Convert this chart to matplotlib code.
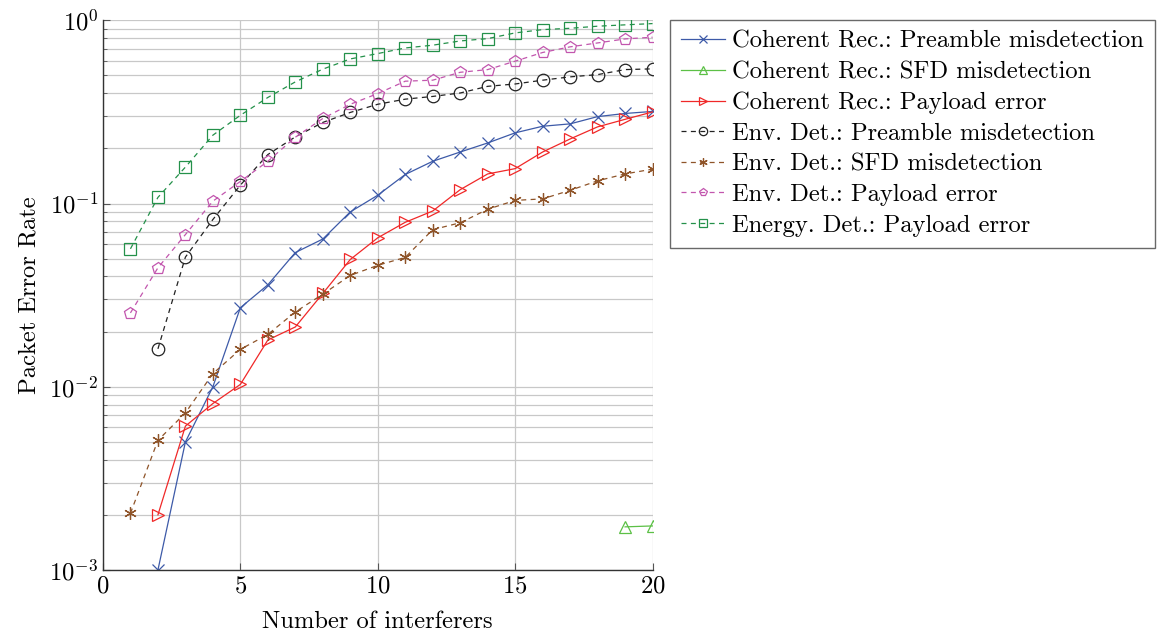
import matplotlib
matplotlib.use("Agg")
import matplotlib.pyplot as plt
from matplotlib.ticker import LogLocator, NullFormatter

plt.rcParams["font.family"] = "serif"
plt.rcParams["font.serif"] = ["cmr10", "DejaVu Serif"]
plt.rcParams["mathtext.fontset"] = "cm"
plt.rcParams["axes.formatter.use_mathtext"] = True

# ---- data ----
n_all = list(range(1, 21))
n_from2 = list(range(2, 21))
n_sfd = [19, 20]

coh_preamble = [0.0010, 0.0050, 0.0100, 0.027, 0.036, 0.054, 0.064, 0.090, 0.111, 0.144,
                0.170, 0.191, 0.214, 0.243, 0.264, 0.272, 0.298, 0.310, 0.318]
coh_sfd = [0.00172, 0.00174]
coh_payload = [0.0020, 0.0061, 0.0081, 0.0103, 0.018, 0.0212, 0.0323, 0.0495, 0.065, 0.079,
               0.091, 0.119, 0.145, 0.155, 0.191, 0.225, 0.262, 0.288, 0.316]
env_preamble = [0.0161, 0.051, 0.0818, 0.126, 0.185, 0.231, 0.277, 0.314, 0.348, 0.371,
                0.384, 0.401, 0.436, 0.449, 0.471, 0.491, 0.505, 0.538, 0.543]
env_sfd = [0.00204, 0.0051, 0.0072, 0.0118, 0.016, 0.0193, 0.0256, 0.032, 0.0405, 0.046,
           0.0508, 0.072, 0.0785, 0.093, 0.104, 0.106, 0.118, 0.133, 0.145, 0.154]
env_payload = [0.0253, 0.0446, 0.0677, 0.103, 0.132, 0.170, 0.230, 0.291, 0.348, 0.398,
               0.465, 0.471, 0.520, 0.538, 0.598, 0.667, 0.716, 0.752, 0.791, 0.808]
energy_payload = [0.0566, 0.108, 0.158, 0.236, 0.303, 0.379, 0.461, 0.541, 0.615, 0.658,
                  0.706, 0.731, 0.771, 0.794, 0.853, 0.889, 0.904, 0.928, 0.944, 0.959]

series = [
    (n_from2, coh_preamble, "Coherent Rec.: Preamble misdetection", "#3d5aa8", "x", "-"),
    (n_sfd, coh_sfd, "Coherent Rec.: SFD misdetection", "#5cc046", "^", "-"),
    (n_from2, coh_payload, "Coherent Rec.: Payload error", "#f02828", ">", "-"),
    (n_from2, env_preamble, "Env. Det.: Preamble misdetection", "#222222", "o", "--"),
    (n_all, env_sfd, "Env. Det.: SFD misdetection", "#8f5429", (6, 2, 0), "--"),
    (n_all, env_payload, "Env. Det.: Payload error", "#c256ae", "p", "--"),
    (n_all, energy_payload, "Energy. Det.: Payload error", "#24914a", "s", "--"),
]

FS = 17.7

fig = plt.figure(figsize=(11.57, 6.33), dpi=100)
ax = fig.add_axes([0.089, 0.0995, 0.475, 0.8685])

for x, y, label, color, marker, ls in series:
    ax.plot(x, y, linestyle=ls, color=color, lw=0.9, marker=marker, markersize=9,
            markerfacecolor="none", markeredgecolor=color, markeredgewidth=0.9,
            dashes=(4, 3.5) if ls == "--" else (None, None), label=label)

ax.set_yscale("log")
ax.set_xlim(0, 20)
ax.set_ylim(1e-3, 1)
ax.set_xticks([0, 5, 10, 15, 20])
ax.yaxis.set_major_locator(LogLocator(base=10, numticks=10))
ax.yaxis.set_minor_locator(LogLocator(base=10, subs=range(2, 10), numticks=20))
ax.yaxis.set_minor_formatter(NullFormatter())
ax.grid(True, which="both", axis="y", color="#c8c8c8", lw=0.9)
ax.grid(True, which="major", axis="x", color="#c8c8c8", lw=0.9)
ax.set_axisbelow(True)
for s in ("top", "right"):
    ax.spines[s].set_visible(False)
for s in ("left", "bottom"):
    ax.spines[s].set_color("#333333")
    ax.spines[s].set_linewidth(1.0)
ax.tick_params(which="both", direction="in", labelsize=FS, color="#555555")
ax.tick_params(which="major", length=5)
ax.tick_params(which="minor", length=3)
ax.set_xlabel("Number of interferers", fontsize=FS, labelpad=10)
ax.set_ylabel("Packet Error Rate", fontsize=FS, labelpad=6)

leg = fig.legend(loc="upper left", bbox_to_anchor=(0.579, 0.969), fontsize=FS,
                 frameon=True, fancybox=False, edgecolor="#444444", handlelength=1.8,
                 handletextpad=0.28, labelspacing=0.34, borderpad=0.45, borderaxespad=0)
leg.get_frame().set_linewidth(1.0)
for h in leg.legend_handles:
    h.set_markersize(6)

fig.savefig("out.png", dpi=100)
